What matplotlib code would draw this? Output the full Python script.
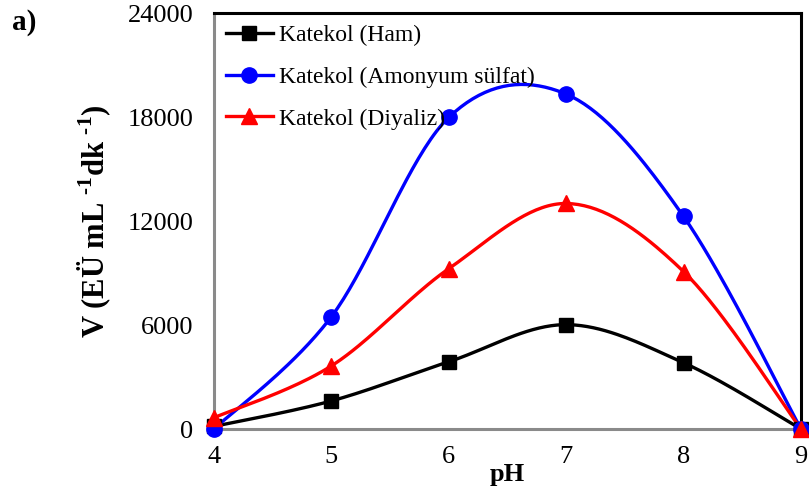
import numpy as np
import matplotlib
matplotlib.use("Agg")
import matplotlib.pyplot as plt

plt.rcParams['font.family'] = ['Liberation Serif', 'DejaVu Serif']
plt.rcParams['mathtext.fontset'] = 'custom'
plt.rcParams['mathtext.rm'] = 'Liberation Serif'
plt.rcParams['mathtext.bf'] = 'Liberation Serif:bold'

# data
ph = [4, 5, 6, 7, 8, 9]
ham = [150, 1620, 3880, 6020, 3820, 0]
amonyum = [0, 6480, 17980, 19320, 12260, 0]
diyaliz = [650, 3640, 9250, 13010, 9080, 0]
labels = ['Katekol (Ham)', 'Katekol (Amonyum sülfat)', 'Katekol (Diyaliz)']


def smooth(x, y, n=40):
    # excel-like smoothed line (bezier through the points)
    x = np.asarray(x, float); y = np.asarray(y, float)
    px = np.concatenate([[x[0]], x, [x[-1]]])
    py = np.concatenate([[y[0]], y, [y[-1]]])
    xs, ys = [], []
    t = np.linspace(0, 1, n)
    for i in range(1, len(px) - 2):
        p0 = np.array([px[i], py[i]])
        p3 = np.array([px[i + 1], py[i + 1]])
        c1 = p0 + (np.array([px[i + 1], py[i + 1]]) - np.array([px[i - 1], py[i - 1]])) / 6
        c2 = p3 - (np.array([px[i + 2], py[i + 2]]) - np.array([px[i], py[i]])) / 6
        b = ((1 - t) ** 3)[:, None] * p0 + (3 * (1 - t) ** 2 * t)[:, None] * c1 \
            + (3 * (1 - t) * t ** 2)[:, None] * c2 + (t ** 3)[:, None] * p3
        xs.extend(b[:, 0]); ys.extend(b[:, 1])
    return xs, ys


fig = plt.figure(figsize=(8.09, 4.99), dpi=100)
ax = fig.add_axes([214 / 809, 70 / 499, 587 / 809, 416 / 499])

series = [(ham, 'black', 's', 10), (amonyum, '#0000ff', 'o', 11), (diyaliz, '#ff0000', '^', 11)]
for (vals, col, mk, ms), lab in zip(series, labels):
    sx, sy = smooth(ph, vals)
    ax.plot(sx, sy, color=col, lw=2.4, clip_on=False, zorder=3)
    ax.plot(ph, vals, linestyle='none', marker=mk, color=col, ms=ms, clip_on=False, zorder=4)
    ax.plot([], [], color=col, lw=2.4, marker=mk, ms=ms, label=lab)

ax.set_xlim(4, 9)
ax.set_ylim(0, 24000)
ax.set_xticks(ph)
ax.set_yticks([0, 6000, 12000, 18000, 24000])
ax.tick_params(axis='both', length=0, labelsize=19, pad=12)
ax.tick_params(axis='y', pad=15)

for s in ['top', 'right']:
    ax.spines[s].set_linewidth(2.2)
    ax.spines[s].set_color('black')
for s in ['left', 'bottom']:
    ax.spines[s].set_linewidth(2.2)
    ax.spines[s].set_color('#8a8a8a')

ax.set_xlabel('pH', fontsize=19, fontweight='bold', labelpad=-3)
ax.set_ylabel('V (EÜ mL $^{\\mathbf{\u20101}}$dk $^{\\mathbf{\u20101}}$)', fontsize=22,
              fontweight='bold', labelpad=10)

ax.legend(loc='upper left', bbox_to_anchor=(0.0, 1.0), frameon=False, fontsize=17,
          handlelength=2.0, handletextpad=0.25, labelspacing=0.85, borderaxespad=0.1,
          borderpad=0.4)

fig.text(12 / 809, 1 - 23 / 499, 'a)', fontsize=21, fontweight='bold', va='center')

fig.savefig('out.png', dpi=100)
